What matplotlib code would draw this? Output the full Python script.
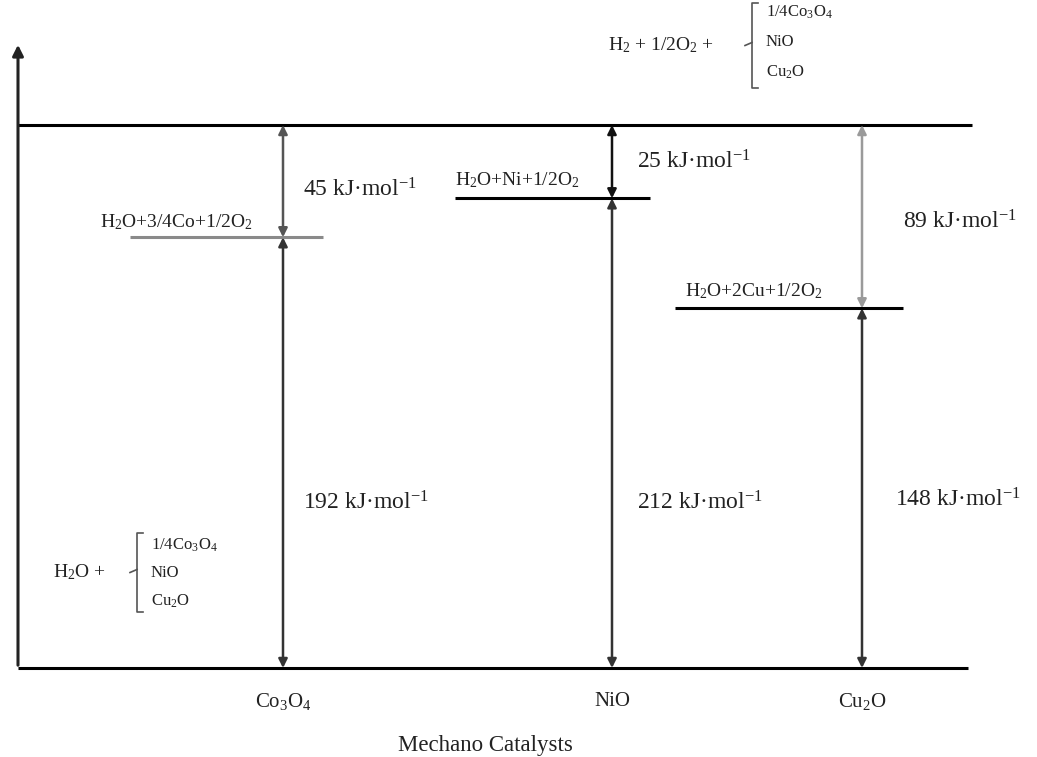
import matplotlib
matplotlib.use("Agg")
import matplotlib.pyplot as plt

plt.rcParams['font.family'] = ['Liberation Serif', 'DejaVu Serif']
plt.rcParams['mathtext.fontset'] = 'custom'
plt.rcParams['mathtext.rm'] = 'Liberation Serif'
plt.rcParams['mathtext.it'] = 'Liberation Serif'

# ---- data ----
catalysts = ['Co$_3$O$_4$', 'NiO', 'Cu$_2$O']
total_energy = 237                      # kJ/mol, H2 + 1/2 O2 + oxide level
lower_energy = [192, 212, 148]          # labelled lower gaps
upper_energy = [45, 25, 89]             # labelled upper gaps
level_drawn = [188, 205, 157]           # drawn heights of intermediate levels
level_labels = ['H$_2$O+3/4Co+1/2O$_2$', 'H$_2$O+Ni+1/2O$_2$', 'H$_2$O+2Cu+1/2O$_2$']
oxides = ['1/4Co$_3$O$_4$', 'NiO', 'Cu$_2$O']
xlabel = 'Mechano Catalysts'

# ---- layout ----
W, H = 1037, 757
base_px, top_px = 668, 125
scale = (base_px - top_px) / total_energy


def E(p):
    """pixel row -> energy coordinate"""
    return (base_px - p) / scale


x_cat = [283, 612, 862]
level_span = [(130, 323), (455, 650), (675, 903)]
level_colors = ['#8a8a8a', 'black', 'black']
upper_colors = ['#555555', '#111111', '#9a9a9a']
lower_colors = ['#333333', '#333333', '#333333']
label_pos = [(100, 222), (455, 180), (685, 291)]
upper_lab = [(303, 190), (637, 162), (903, 222)]
lower_lab = [(303, 503), (637, 503), (895, 500)]

fig = plt.figure(figsize=(W / 100, H / 100), dpi=100)
ax = fig.add_axes([0, 0, 1, 1])
ax.set_xlim(0, W)
ax.set_ylim(E(H), E(0))
ax.axis('off')

# axes lines
ax.plot([18, 968], [0, 0], color='black', lw=2.2, solid_capstyle='butt')
ax.plot([18, 972], [total_energy, total_energy], color='black', lw=2.2, solid_capstyle='butt')
ax.annotate('', xy=(18, E(42)), xytext=(18, 0),
            arrowprops=dict(arrowstyle='-|>', color='#222222', lw=2.2, mutation_scale=16))

fs_e = 17
for i, x in enumerate(x_cat):
    lvl = level_drawn[i]
    x0, x1 = level_span[i]
    ax.plot([x0, x1], [lvl, lvl], color=level_colors[i], lw=2.2, solid_capstyle='butt')
    ax.text(label_pos[i][0], E(label_pos[i][1]), level_labels[i], fontsize=14,
            ha='left', va='center', color='#222222')
    ax.annotate('', xy=(x, lvl), xytext=(x, total_energy),
                arrowprops=dict(arrowstyle='<|-|>', color=upper_colors[i], lw=1.8,
                                mutation_scale=13, shrinkA=0, shrinkB=0))
    ax.annotate('', xy=(x, 0), xytext=(x, lvl),
                arrowprops=dict(arrowstyle='<|-|>', color=lower_colors[i], lw=1.8,
                                mutation_scale=13, shrinkA=0, shrinkB=0))
    ax.text(upper_lab[i][0], E(upper_lab[i][1]), f'{upper_energy[i]} kJ·mol$^{{-1}}$',
            fontsize=fs_e, ha='left', va='center', color='#222222')
    ax.text(lower_lab[i][0], E(lower_lab[i][1]), f'{lower_energy[i]} kJ·mol$^{{-1}}$',
            fontsize=fs_e, ha='left', va='center', color='#222222')
    ax.text(x, E(701), catalysts[i], fontsize=15, ha='center', va='center', color='#222222')

ax.text(485, E(745), xlabel, fontsize=16.5, ha='center', va='center', color='#222222')


def brace(xb, ytop, ybot, prefix, px_prefix, ys):
    ax.plot([xb + 6, xb, xb, xb + 6], [E(ytop), E(ytop), E(ybot), E(ybot)],
            color='#555555', lw=1.2)
    ym = (ytop + ybot) / 2
    ax.plot([xb, xb - 7], [E(ym - 3), E(ym)], color='#555555', lw=1.2)
    ax.text(px_prefix, E(ym), prefix, fontsize=14, ha='left', va='center', color='#222222')
    for s, y in zip(oxides, ys):
        ax.text(xb + 14, E(y), s, fontsize=12, ha='left', va='center', color='#222222')


brace(137, 533, 612, 'H$_2$O +', 53, [545, 573, 601])
brace(752, 3, 88, 'H$_2$ + 1/2O$_2$ +', 608, [12, 42, 72])

fig.savefig('out.png', dpi=100)
